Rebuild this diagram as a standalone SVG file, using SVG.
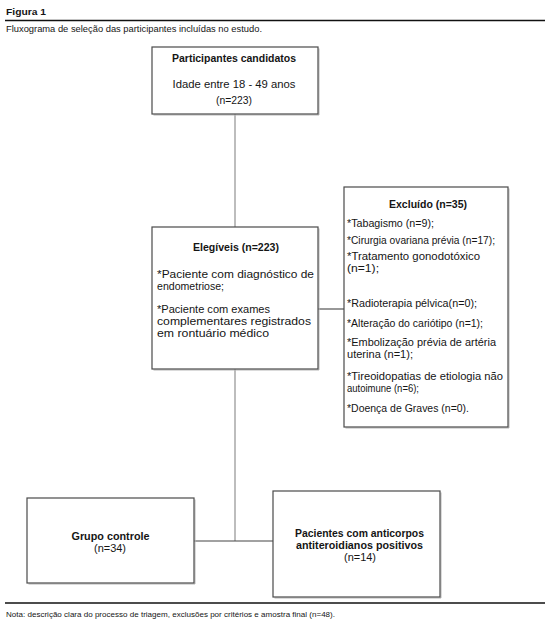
<svg xmlns="http://www.w3.org/2000/svg" width="550" height="626" viewBox="0 0 550 626">
<style>
text{font-family:"Liberation Sans",Arial,sans-serif;fill:#151515;}
.t{font-size:10.4px;}
.b{font-weight:700;}
.c{text-anchor:middle;}
.box{fill:#fff;stroke:#4a4a4a;stroke-width:1.2;}
.sh{fill:none;stroke:#b5b5b5;stroke-width:1;}
.vl{stroke:#9a9a9a;stroke-width:1.3;fill:none;}
.hl{stroke:#444;stroke-width:1.1;fill:none;}
</style>
<rect width="550" height="626" fill="#fff"/>
<g id="header">
<text x="6" y="15" style="font-size:9.5px;font-weight:700" textLength="40" lengthAdjust="spacingAndGlyphs">Figura 1</text>
<line x1="5" y1="20.5" x2="545" y2="20.5" stroke="#111" stroke-width="1.4"/>
<text x="6" y="32" style="font-size:9px" textLength="256" lengthAdjust="spacingAndGlyphs">Fluxograma de seleção das participantes incluídas no estudo.</text>
</g>
<g id="connectors">
<line class="vl" x1="235" y1="114" x2="235" y2="227"/>
<line class="vl" x1="235" y1="369" x2="235" y2="541"/>
<line class="hl" x1="318" y1="309" x2="344" y2="309"/>
<line class="hl" x1="194" y1="541" x2="273" y2="541"/>
</g>
<g id="candidatos">
<path class="sh" d="M153.5 115 H319 V48.5"/>
<rect class="box" x="152" y="47" width="166" height="67"/>
<text class="t b c" x="234" y="62" textLength="124" lengthAdjust="spacingAndGlyphs">Participantes candidatos</text>
<text class="t c" x="234" y="88" textLength="123" lengthAdjust="spacingAndGlyphs">Idade entre 18 - 49 anos</text>
<text class="t c" x="234" y="104" textLength="36" lengthAdjust="spacingAndGlyphs">(n=223)</text>
</g>
<g id="elegiveis">
<path class="sh" d="M153.5 370 H319 V228.5"/>
<rect class="box" x="152" y="227" width="166" height="142"/>
<text class="t b c" x="236" y="250.5" textLength="86" lengthAdjust="spacingAndGlyphs">Elegíveis (n=223)</text>
<text class="t" x="157" y="278" textLength="157" lengthAdjust="spacingAndGlyphs">*Paciente com diagnóstico de</text>
<text class="t" x="157" y="290" textLength="67" lengthAdjust="spacingAndGlyphs">endometriose;</text>
<text class="t" x="157" y="313" textLength="113" lengthAdjust="spacingAndGlyphs">*Paciente com exames</text>
<text class="t" x="157" y="325" textLength="154" lengthAdjust="spacingAndGlyphs">complementares registrados</text>
<text class="t" x="157" y="337" textLength="112" lengthAdjust="spacingAndGlyphs">em rontuário médico</text>
</g>
<g id="excluido">
<path class="sh" d="M345.5 428 H509 V188.5"/>
<rect class="box" x="344" y="187" width="164" height="240"/>
<text class="t b c" x="428" y="207.5" textLength="78" lengthAdjust="spacingAndGlyphs">Excluído (n=35)</text>
<text class="t" x="347" y="226.5" textLength="87" lengthAdjust="spacingAndGlyphs">*Tabagismo (n=9);</text>
<text class="t" x="347" y="243.5" textLength="148" lengthAdjust="spacingAndGlyphs">*Cirurgia ovariana prévia (n=17);</text>
<text class="t" x="347" y="260" textLength="133" lengthAdjust="spacingAndGlyphs">*Tratamento gonodotóxico</text>
<text class="t" x="347" y="272" textLength="32" lengthAdjust="spacingAndGlyphs">(n=1);</text>
<text class="t" x="347" y="306.5" textLength="130" lengthAdjust="spacingAndGlyphs">*Radioterapia pélvica(n=0);</text>
<text class="t" x="347" y="326.5" textLength="136" lengthAdjust="spacingAndGlyphs">*Alteração do cariótipo (n=1);</text>
<text class="t" x="347" y="346" textLength="149" lengthAdjust="spacingAndGlyphs">*Embolização prévia de artéria</text>
<text class="t" x="347" y="358" textLength="66" lengthAdjust="spacingAndGlyphs">uterina (n=1);</text>
<text class="t" x="347" y="380" textLength="156" lengthAdjust="spacingAndGlyphs">*Tireoidopatias de etiologia não</text>
<text class="t" x="347" y="392" textLength="72" lengthAdjust="spacingAndGlyphs">autoimune (n=6);</text>
<text class="t" x="347" y="411.5" textLength="122" lengthAdjust="spacingAndGlyphs">*Doença de Graves (n=0).</text>
</g>
<g id="controle">
<path class="sh" d="M28.5 584 H195 V499.5"/>
<rect class="box" x="27" y="498" width="167" height="85"/>
<text class="t b c" x="110.5" y="539.5" textLength="78" lengthAdjust="spacingAndGlyphs">Grupo controle</text>
<text class="t c" x="110" y="551.5" textLength="32" lengthAdjust="spacingAndGlyphs">(n=34)</text>
</g>
<g id="positivos">
<path class="sh" d="M274.5 598 H441 V492.5"/>
<rect class="box" x="273" y="491" width="167" height="106"/>
<text class="t b c" x="359.5" y="536.5" textLength="129" lengthAdjust="spacingAndGlyphs">Pacientes com anticorpos</text>
<text class="t b c" x="359.5" y="548.5" textLength="127" lengthAdjust="spacingAndGlyphs">antiteroidianos positivos</text>
<text class="t c" x="360" y="561" textLength="32" lengthAdjust="spacingAndGlyphs">(n=14)</text>
</g>
<g id="footer">
<line x1="5" y1="603" x2="545" y2="603" stroke="#111" stroke-width="1.6"/>
<text x="6" y="616.5" style="font-size:7.6px" textLength="329" lengthAdjust="spacingAndGlyphs">Nota: descrição clara do processo de triagem, exclusões por critérios e amostra final (n=48).</text>
</g>
</svg>
